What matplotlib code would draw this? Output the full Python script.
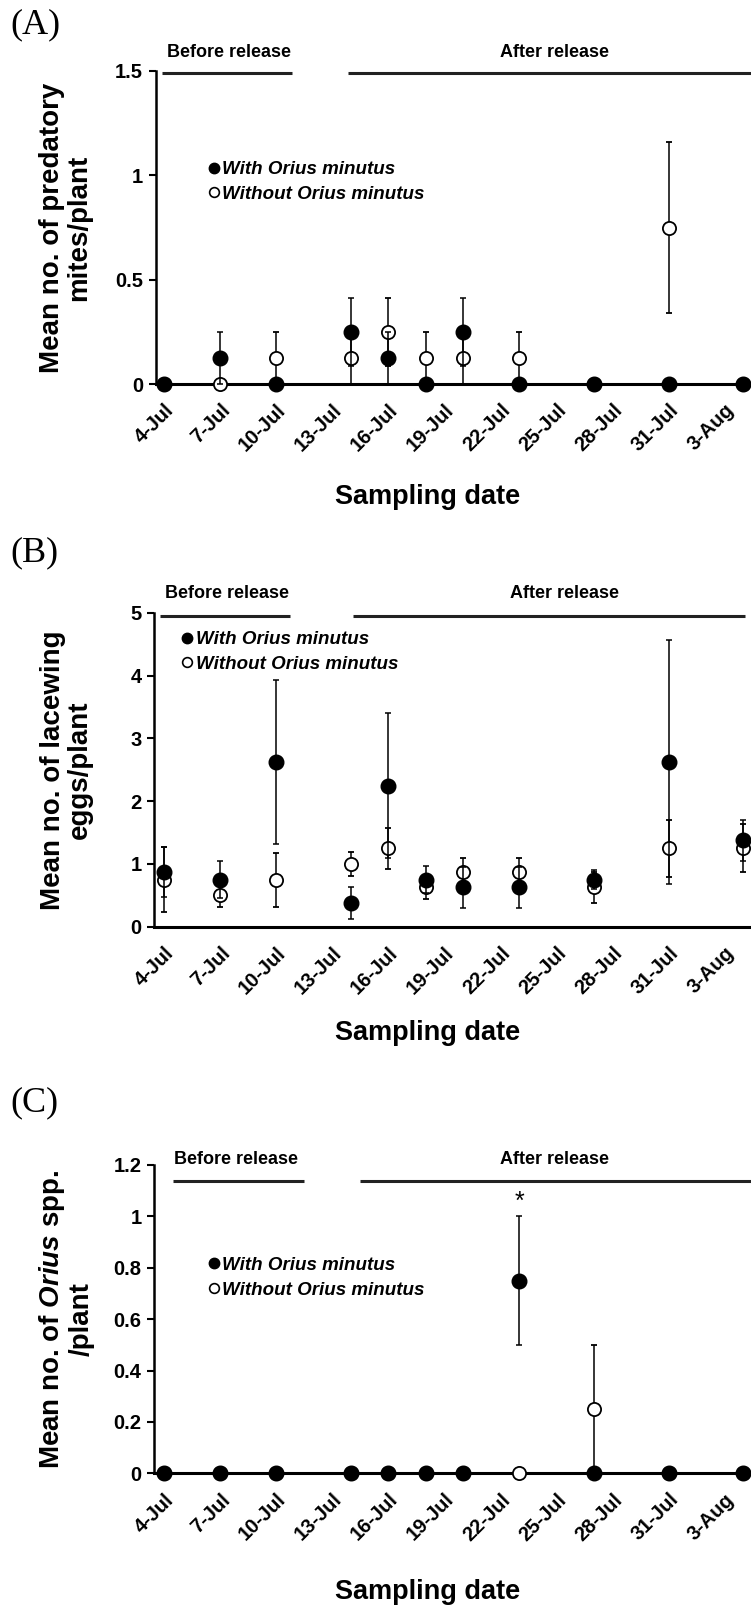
import numpy as np
import matplotlib
matplotlib.use("Agg")
import matplotlib.pyplot as plt
from matplotlib.lines import Line2D
from matplotlib.ticker import FuncFormatter
from datetime import datetime

plt.rcParams['font.family'] = ['Liberation Sans', 'DejaVu Sans']
plt.rcParams['font.weight'] = 'bold'
plt.rcParams['mathtext.fontset'] = 'custom'
plt.rcParams['mathtext.rm'] = 'Liberation Sans:bold'
plt.rcParams['mathtext.it'] = 'Liberation Sans:bold:italic'

# sampling dates and axis labels
sample_dates = ["4-Jul", "7-Jul", "10-Jul", "14-Jul", "16-Jul", "18-Jul",
                "20-Jul", "23-Jul", "27-Jul", "31-Jul", "4-Aug"]
tick_dates = ["4-Jul", "7-Jul", "10-Jul", "13-Jul", "16-Jul", "19-Jul",
              "22-Jul", "25-Jul", "28-Jul", "31-Jul", "3-Aug"]

# (A) predatory mites / plant
mites_with = [0, 0.125, 0, 0.25, 0.125, 0, 0.25, 0, 0, 0, 0]
mites_with_se = [0, 0.125, 0, 0.164, 0.125, 0, 0.164, 0, 0, 0, 0]
mites_without = [0, 0, 0.125, 0.125, 0.25, 0.125, 0.125, 0.125, 0, 0.75, 0]
mites_without_se = [0, 0, 0.125, 0.125, 0.164, 0.125, 0.125, 0.125, 0, 0.41, 0]

# (B) lacewing eggs / plant
eggs_with = [0.875, 0.75, 2.625, 0.375, 2.25, 0.75, 0.625, 0.625, 0.75, 2.625, 1.375]
eggs_with_se = [0.40, 0.29, 1.30, 0.26, 1.15, 0.22, 0.32, 0.32, 0.15, 1.94, 0.32]
eggs_without = [0.75, 0.5, 0.75, 1.0, 1.25, 0.625, 0.875, 0.875, 0.625, 1.25, 1.25]
eggs_without_se = [0.52, 0.19, 0.43, 0.19, 0.33, 0.18, 0.22, 0.22, 0.25, 0.45, 0.38]

# (C) Orius spp. / plant
orius_with = [0, 0, 0, 0, 0, 0, 0, 0.75, 0, 0, 0]
orius_with_se = [0, 0, 0, 0, 0, 0, 0, 0.25, 0, 0, 0]
orius_without = [0, 0, 0, 0, 0, 0, 0, 0, 0.25, 0, 0]
orius_without_se = [0, 0, 0, 0, 0, 0, 0, 0, 0.25, 0, 0]
orius_signif = [False, False, False, False, False, False, False, True, False, False, False]

legend_labels = ["With Orius minutus", "Without Orius minutus"]


def to_days(labels):
    base = datetime.strptime("4-Jul-2000", "%d-%b-%Y")
    return np.array([(datetime.strptime(s + "-2000", "%d-%b-%Y") - base).days for s in labels])


W, H = 751, 1607
DAY0_PX = 164.3   # x pixel of 4-Jul
PX_PER_DAY = 18.68

fig = plt.figure(figsize=(W / 100, H / 100), dpi=100)


def draw_panel(rect_px, letter, letter_top, with_v, with_se, wo_v, wo_se, ymax, ystep,
               ylabel, lines, line_y, text_y, text_x, leg_anchor, xlabel_y):
    left, top, bottom = rect_px
    ax = fig.add_axes([left / W, 1 - bottom / H, 1 - left / W, (bottom - top) / H])
    x = to_days(sample_dates)

    # open circles underneath, filled on top
    ax.errorbar(x, wo_v, yerr=wo_se, fmt='o', ms=9.5, mfc='white', mec='black', mew=1.3,
                ecolor='black', elinewidth=1.1, capsize=2, capthick=1.1, clip_on=False, zorder=3)
    ax.errorbar(x, with_v, yerr=with_se, fmt='o', ms=10.5, mfc='black', mec='black',
                ecolor='black', elinewidth=1.1, capsize=2, capthick=1.1, clip_on=False, zorder=4)

    ax.set_xlim((left - DAY0_PX) / PX_PER_DAY, (W - DAY0_PX) / PX_PER_DAY)
    ax.set_ylim(0, ymax)
    ax.set_yticks(np.arange(0, ymax + ystep / 2, ystep))
    ax.yaxis.set_major_formatter(FuncFormatter(lambda v, p: "%g" % round(v, 2)))
    ax.set_xticks(to_days(tick_dates))
    ax.set_xticklabels(tick_dates, rotation=45, ha='right', rotation_mode='anchor')
    ax.tick_params(axis='x', length=0, pad=12, labelsize=14.5)
    ax.tick_params(axis='y', length=5, width=1.5, direction='out', labelsize=14.5, pad=4)
    for s in ['top', 'right']:
        ax.spines[s].set_visible(False)
    ax.spines['left'].set_linewidth(1.8)
    ax.spines['bottom'].set_linewidth(2.2)
    ax.set_facecolor('none')

    # before / after release brackets
    for (x0, x1), label, tx in zip(lines, ["Before release", "After release"], text_x):
        ax.plot([x0, x1], [line_y, line_y], color='#222222', lw=2.2, clip_on=False,
                solid_capstyle='butt')
        ax.text(tx, text_y, label, ha='center', va='center', fontsize=13)

    handles = [Line2D([], [], marker='o', ls='none', color='black', ms=7.5),
               Line2D([], [], marker='o', ls='none', mfc='white', mec='black', ms=7, mew=1.2)]
    ax.legend(handles, legend_labels, loc='upper left', bbox_to_anchor=leg_anchor,
              frameon=False, borderpad=0, borderaxespad=0, handlelength=0.7,
              handletextpad=0.1, labelspacing=0.4,
              prop={'size': 13.5, 'weight': 'bold', 'style': 'italic'})

    fig.text(66 / W, 1 - (top + bottom) / 2 / H, ylabel, rotation=90, ha='center',
             va='center', multialignment='center', fontsize=20, linespacing=1.05)
    fig.text(428 / W, 1 - xlabel_y / H, "Sampling date", ha='center', va='center', fontsize=19.5)
    fig.text(10 / W, 1 - letter_top / H, letter, ha='left', va='top', fontsize=26,
             family='Liberation Serif', weight='normal')
    return ax


def d(px):
    return (px - DAY0_PX) / PX_PER_DAY


end = d(W + 5)

ax_a = draw_panel((155.6, 71, 384), "(A)", 8, mites_with, mites_with_se,
                  mites_without, mites_without_se, 1.5, 0.5,
                  "Mean no. of predatory\nmites/plant",
                  [(d(162), d(292)), (d(348), end)], 1.49, 1.591, [d(229), d(554)],
                  (0.087, 0.712), 497)

ax_b = draw_panel((154, 613, 926.7), "(B)", 536, eggs_with, eggs_with_se,
                  eggs_without, eggs_without_se, 5, 1,
                  "Mean no. of lacewing\neggs/plant",
                  [(d(160), d(290)), (d(353), d(745))], 4.96, 5.31, [d(227), d(565)],
                  (0.045, 0.942), 1033)

ax_c = draw_panel((154, 1165, 1473.3), "(C)", 1086, orius_with, orius_with_se,
                  orius_without, orius_without_se, 1.2, 0.2,
                  "Mean no. of $\\mathit{Orius}$ spp.\n/plant",
                  [(d(173), d(304)), (d(360), end)], 1.136, 1.22, [d(236), d(554)],
                  (0.089, 0.702), 1592)

# significance mark
xc = to_days(sample_dates)
for xi, m, se, sig in zip(xc, orius_with, orius_with_se, orius_signif):
    if sig:
        ax_c.text(xi, m + se + 0.056, "*", ha='center', va='center', fontsize=18, weight='normal')

fig.savefig("out.png", dpi=100, facecolor='white')
